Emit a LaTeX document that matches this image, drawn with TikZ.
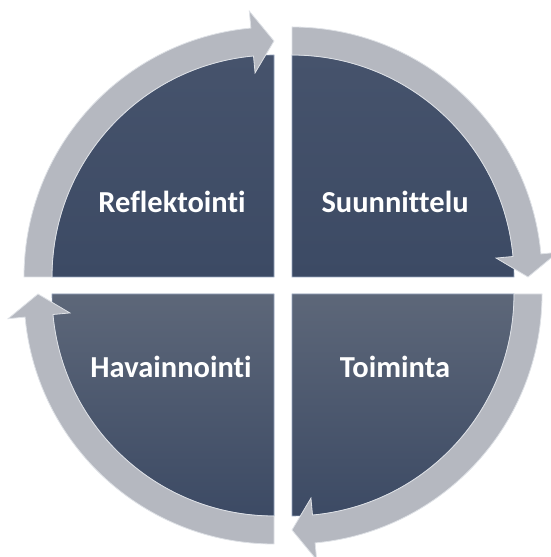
\documentclass[tikz,border=0pt]{standalone}
\usepackage{fontspec}
\setmainfont[Ligatures=NoCommon]{Carlito}

\definecolor{quadtop}{RGB}{70,83,108}
\definecolor{quaddark}{RGB}{60,74,100}
\definecolor{quadlight}{RGB}{93,103,121}
\definecolor{quadedge}{RGB}{150,165,190}
\definecolor{ringgray}{RGB}{181,184,192}
\definecolor{ringedge}{RGB}{222,225,230}

\begin{document}
\begin{tikzpicture}[x=1pt, y=1pt,
    phase/.style={text=white, font=\fontsize{30.5}{36}\selectfont\bfseries, anchor=base, inner sep=0pt},
    quad/.style={draw=quadedge, line width=0.6pt},
    ringseg/.style={fill=ringgray, draw=ringedge, line width=0.8pt, line join=miter}
]
% Set manual bounding box
\useasboundingbox (0,0) rectangle (550,557);

% Quarter disks
\shadedraw[quad, top color=quadtop, bottom color=quaddark]
    (274,280) -- ++(180:222) arc[start angle=180, end angle=90, radius=222] -- cycle;
\shadedraw[quad, top color=quadtop, bottom color=quaddark]
    (292,280) -- ++(90:222) arc[start angle=90, end angle=0, radius=222] -- cycle;
\shadedraw[quad, top color=quadlight, bottom color=quaddark]
    (292,263) -- ++(0:222) arc[start angle=0, end angle=-90, radius=222] -- cycle;
\shadedraw[quad, top color=quadlight, bottom color=quaddark]
    (274,263) -- ++(-90:222) arc[start angle=-90, end angle=-180, radius=222] -- cycle;

% Ring segments with arrow heads
\foreach \cx/\cy/\a in {274/280/180, 292/280/90, 292/263/0, 274/263/-90} {
    \begin{scope}[shift={(\cx,\cy)}]
        \pgfmathsetmacro{\e}{\a-90}
        \pgfmathsetmacro{\b}{\e+5.3}
        \draw[ringseg] (\a:222) arc[start angle=\a, end angle=\b, radius=222]
            -- (\b:205) -- (\e:236) -- (\b:267) -- (\b:250)
            arc[start angle=\b, end angle=\a, radius=250] -- cycle;
    \end{scope}
}

% Phase labels
\node[phase] (refl) at (172,344) {Reflektointi};
\node[phase] (suun) at (395,344) {Suunnittelu};
\node[phase] (hava) at (171,179) {Havainnointi};
\node[phase] (toim) at (395,179) {Toiminta};

\end{tikzpicture}
\end{document}
